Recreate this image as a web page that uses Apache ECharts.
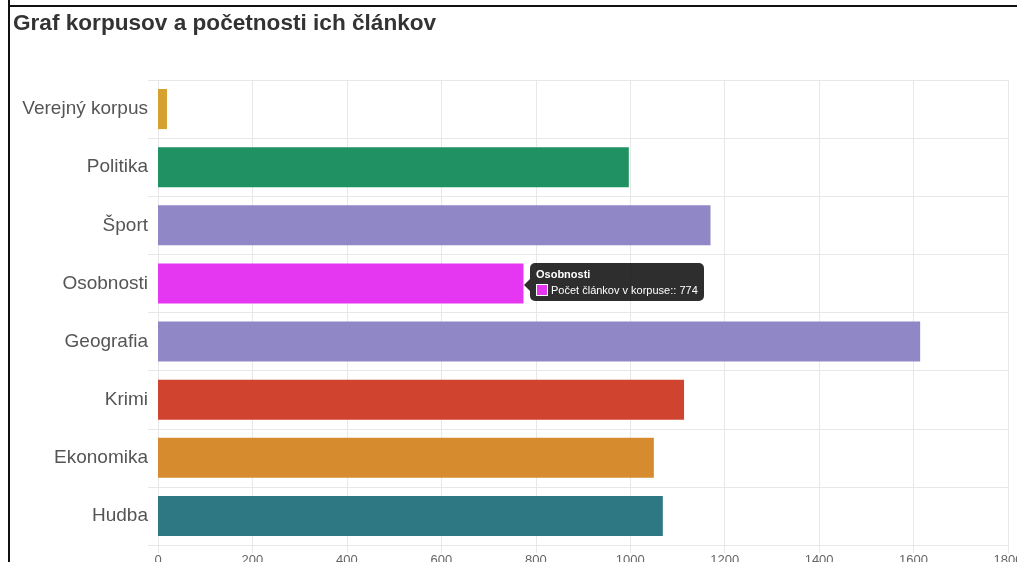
<!DOCTYPE html>
<html>
<head>
<meta charset="utf-8">
<script src="https://cdn.jsdelivr.net/npm/echarts@6/dist/echarts.min.js"></script>
<style>
  html, body { margin: 0; padding: 0; background: #fff; overflow: hidden; }
  #korpusChart { width: 1017px; height: 562px; }
</style>
</head>
<body>
<div id="korpusChart"></div>
<script>
  // korpusy a pocty clankov
  var categories = ['Verejný korpus', 'Politika', 'Šport', 'Osobnosti', 'Geografia', 'Krimi', 'Ekonomika', 'Hudba']
  var counts = [19, 997, 1170, 774, 1614, 1114, 1050, 1069]
  var barColors = ['#d6a12f', '#1f9163', '#8f87c6', '#e536f2', '#8f87c6', '#d0432f', '#d58b2e', '#2e7884']
  var seriesName = 'Počet článkov v korpuse:'

  var chart = echarts.init(document.getElementById('korpusChart'))
  var gridColor = '#e8e8e8'

  var option = {
    animation: false,
    textStyle: { fontFamily: 'Liberation Sans, Arial, sans-serif' },
    title: {
      text: 'Graf korpusov a početnosti ich článkov',
      left: 8,
      top: 7,
      textStyle: { fontSize: 22.6, fontWeight: 'bold', color: '#333' }
    },
    grid: { left: 158, right: 9, top: 80, bottom: 17, containLabel: false, outerBoundsMode: 'none' },
    tooltip: {
      trigger: 'item',
      alwaysShowContent: true,
      triggerOn: 'none',
      position: [530, 263],
      backgroundColor: 'rgba(0,0,0,0.82)',
      borderWidth: 0,
      borderRadius: 5,
      padding: [3, 6, 3, 6],
      extraCssText: 'box-shadow:none;overflow:visible;',
      formatter: function (p) {
        return '<div style="position:relative;color:#fff;font-size:11px;line-height:16px;font-family:Liberation Sans,Arial,sans-serif;">' +
          '<div style="position:absolute;left:-12px;top:13px;width:0;height:0;border-top:6px solid transparent;border-bottom:6px solid transparent;border-right:6px solid rgba(0,0,0,0.82);"></div>' +
          '<b>' + p.name + '</b><br>' +
          '<span style="display:inline-block;width:10px;height:10px;background:' + p.color + ';border:1px solid #fff;vertical-align:-2px;margin-right:3px;"></span>' +
          p.seriesName + ': ' + p.value + '</div>'
      }
    },
    xAxis: {
      type: 'value',
      min: 0,
      max: 1800,
      interval: 200,
      axisLine: { show: true, lineStyle: { color: gridColor } },
      axisTick: { show: true, length: 8, lineStyle: { color: gridColor } },
      axisLabel: { color: '#666', fontSize: 13, margin: 9, formatter: function (v) { return String(v) } },
      splitLine: { show: true, lineStyle: { color: gridColor } }
    },
    yAxis: {
      type: 'category',
      inverse: true,
      data: categories,
      axisLine: { show: true, lineStyle: { color: gridColor } },
      axisTick: { show: true, length: 10, lineStyle: { color: gridColor } },
      axisLabel: { color: '#555', fontSize: 19, margin: 10 },
      splitLine: { show: true, lineStyle: { color: gridColor } }
    },
    series: [{
      name: seriesName,
      type: 'bar',
      barCategoryGap: '31%',
      data: counts.map(function (v, i) {
        return { value: v, itemStyle: { color: barColors[i] } }
      })
    }],
    graphic: [
      { type: 'line', shape: { x1: 9, y1: 0, x2: 9, y2: 562 }, style: { stroke: '#111', lineWidth: 2 } },
      { type: 'line', shape: { x1: 8, y1: 6, x2: 1017, y2: 6 }, style: { stroke: '#111', lineWidth: 2 } }
    ]
  }

  chart.setOption(option)
  chart.dispatchAction({ type: 'showTip', seriesIndex: 0, dataIndex: 3 })
</script>
</body>
</html>
